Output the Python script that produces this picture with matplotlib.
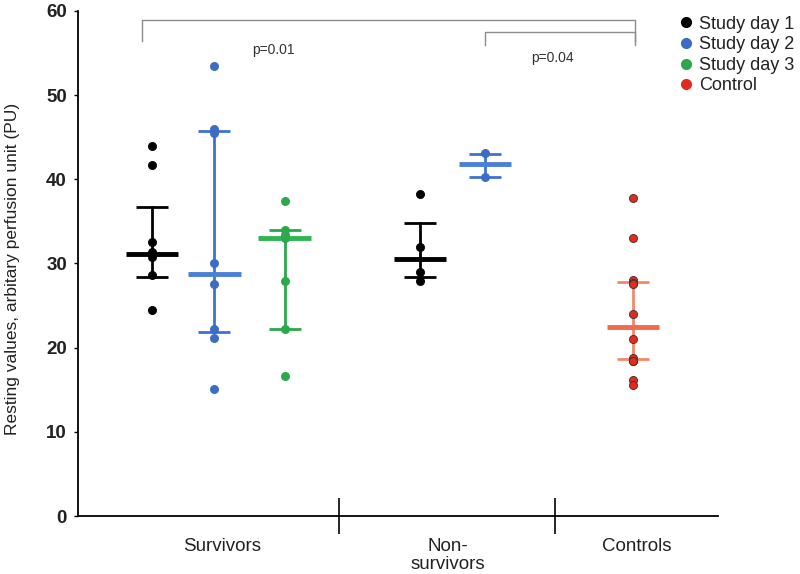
import numpy as np
import matplotlib.pyplot as plt

plt.rcParams['font.family'] = ['Liberation Sans', 'DejaVu Sans']

# values (PU)
surv_day1 = [43.9, 41.7, 32.6, 31.4, 30.8, 28.6, 24.5]
surv_day2 = [53.5, 46.0, 45.5, 30.0, 27.6, 22.2, 21.2, 15.1]
surv_day3 = [37.4, 34.0, 33.4, 33.0, 27.9, 22.2, 16.6]
nonsurv_day1 = [38.2, 32.0, 29.0, 27.9]
nonsurv_day2 = [43.1, 40.3]
controls = [37.8, 33.0, 28.0, 27.7, 27.6, 24.0, 21.0, 18.8, 18.4, 18.4, 16.2, 15.6]

series = [surv_day1, surv_day2, surv_day3, nonsurv_day1, nonsurv_day2, controls]
medians = [31.1, 28.8, 33.0, 30.5, 41.8, 22.5]
q_low = [28.4, 21.8, 22.2, 28.4, 40.3, 18.6]
q_high = [36.7, 45.7, 34.0, 34.8, 43.0, 27.8]

groups = ['Survivors', 'Non-\nsurvivors', 'Controls']
legend_labels = ['Study day 1', 'Study day 2', 'Study day 3', 'Control']
p_labels = ['p=0.01', 'p=0.04']

# styling / layout
black, blue, green, red = '#000000', '#3d6cc4', '#2aa84a', '#e52a1c'
dot_colors = [black, blue, green, black, blue, red]
med_colors = [black, '#4a80d8', '#2fb552', black, '#4a80d8', '#f26a4a']
bar_colors = [black, '#3d72d0', '#2aa84a', black, '#3d72d0', '#f08a6a']
xpos = [1.16, 2.13, 3.23, 5.34, 6.36, 8.67]
group_x = [2.25, 5.78, 8.73]
seps = [4.08, 7.45]

fig = plt.figure(figsize=(8, 5.74), dpi=100)
ax = fig.add_axes([0.0975, 0.101, 0.8, 0.88])

for i, vals in enumerate(series):
    x = xpos[i]
    ax.plot([x, x], [q_low[i], q_high[i]], color=bar_colors[i], lw=2, zorder=2)
    ax.hlines([q_low[i], q_high[i]], x - 0.25, x + 0.25, color=bar_colors[i], lw=2, zorder=2)
    ax.hlines(medians[i], x - 0.41, x + 0.41, color=med_colors[i], lw=3.5, zorder=3)
    ax.scatter(np.full(len(vals), x), vals, s=34, color=dot_colors[i],
               edgecolors='#333333' if i == 5 else dot_colors[i], linewidths=0.6, zorder=4)

# significance brackets
gray = '#8c8c8c'
ax.plot([1.0, 1.0, 8.7, 8.7], [56.4, 58.9, 58.9, 56.4], color=gray, lw=1, clip_on=False)
ax.plot([6.36, 6.36, 8.7, 8.7], [56.0, 57.5, 57.5, 56.0], color=gray, lw=1, clip_on=False)
ax.text(3.06, 55.3, p_labels[0], fontsize=10, ha='center', va='center', color='#333333')
ax.text(7.42, 54.4, p_labels[1], fontsize=10, ha='center', va='center', color='#333333')

ax.set_xlim(0, 10)
ax.set_ylim(0, 60)
ax.set_yticks(np.arange(0, 61, 10))
ax.tick_params(axis='y', labelsize=13.5, length=3, width=1, pad=5)
for t in ax.get_yticklabels():
    t.set_fontweight('bold')
    t.set_color('#222222')
ax.set_xticks(seps)
ax.set_xticklabels([])
ax.tick_params(axis='x', direction='inout', length=26, width=1.2)
for gx, g in zip(group_x, groups):
    ax.text(gx, -2.6, g, ha='center', va='top', fontsize=13.5, linespacing=1.05,
            color='#222222')
ax.spines['top'].set_visible(False)
ax.spines['right'].set_visible(False)
ax.spines['left'].set_linewidth(1.3)
ax.spines['bottom'].set_linewidth(1.3)
ax.set_ylabel('Resting values, arbitary perfusion unit (PU)', fontsize=12.5, color='#222222')
ax.yaxis.set_label_coords(-0.09, 0.49)

handles = [plt.Line2D([], [], marker='o', ls='', ms=7, color=c) for c in [black, blue, green, red]]
leg = ax.legend(handles, legend_labels, loc='upper left', bbox_to_anchor=(0.925, 1.005),
                frameon=False, fontsize=13, handletextpad=0.2, labelspacing=0.2,
                borderaxespad=0, handlelength=1.0)
for t in leg.get_texts():
    t.set_color('#222222')

fig.savefig('out.png', dpi=100)
